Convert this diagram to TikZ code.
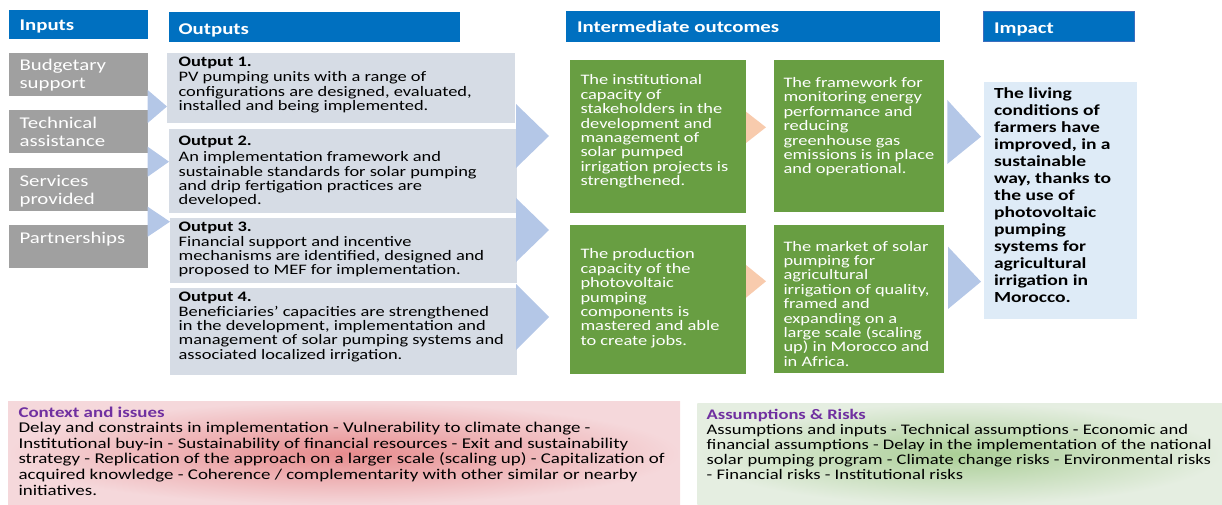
\documentclass[tikz,border=0pt]{standalone}
\usepackage{fontspec}
\setmainfont{Carlito}[FakeStretch=1.27]
\usetikzlibrary{calc}

\definecolor{hdrblue}{RGB}{0,112,192}
\definecolor{hdrline}{RGB}{60,110,190}
\definecolor{inputgray}{RGB}{160,160,160}
\definecolor{outbox}{RGB}{214,220,229}
\definecolor{chevblue}{RGB}{180,199,231}
\definecolor{chevorange}{RGB}{248,203,173}
\definecolor{leafgreen}{RGB}{104,158,66}
\definecolor{impactbg}{RGB}{222,235,247}
\definecolor{titlepurple}{RGB}{112,48,160}
\definecolor{ctxin}{RGB}{231,140,142}
\definecolor{ctxout}{RGB}{245,216,219}
\definecolor{asmin}{RGB}{170,206,150}
\definecolor{asmout}{RGB}{229,238,225}

\newcommand{\bodyfont}{\fontsize{14.5}{14.4}\selectfont}
\newcommand{\impactfont}{\fontsize{15.4}{17}\selectfont\bfseries}
\newcommand{\hdrfont}{\fontsize{16.4}{18}\selectfont\bfseries}
\newcommand{\inputfont}{\fontsize{16.4}{18}\selectfont}
\newcommand{\notefont}{\fontsize{14.9}{15.8}\selectfont}
\newcommand{\asmfont}{\fontsize{14.6}{15.2}\selectfont}
\newcommand{\block}[2]{\parbox[t]{#1pt}{\raggedright #2}}

\tikzset{
  panel/.style={anchor=north west, inner sep=0, outer sep=0, draw=none},
  header/.style={panel, fill=hdrblue},
  inputbox/.style={panel, fill=inputgray},
  outputbox/.style={panel, fill=outbox},
  outcomebox/.style={panel, fill=leafgreen},
  impactbox/.style={panel, fill=impactbg},
  txt/.style={anchor=base west, inner sep=0, outer sep=0},
  bluechev/.style={fill=chevblue},
  orangechev/.style={fill=chevorange},
}

\begin{document}
\begin{tikzpicture}[x=1pt,y=-1pt]
\useasboundingbox (0,0) rectangle (1222,505);

% ---- column headers ----
\node[header, minimum width=138.5pt, minimum height=28.5pt] (hin) at (9,10.5) {};
\node[header, minimum width=291pt, minimum height=29.7pt] (hout) at (169,12) {};
\node[header, minimum width=374pt, minimum height=30.7pt] (hmid) at (566,11) {};
\node[header, minimum width=151.5pt, minimum height=30pt, draw=hdrline, line width=0.8pt] (himp) at (983,11.7) {};

\node[txt, text=white] at (19.6,31) {\hdrfont Inputs};
\node[txt, text=white] at (178.6,34.5) {\hdrfont Outputs};
\node[txt, text=white] at (577,33) {\hdrfont Intermediate outcomes};
\node[txt, text=white] at (994,34) {\hdrfont Impact};

% ---- inputs ----
\node[inputbox, minimum width=138.8pt, minimum height=42.4pt] (in1) at (8.9,53.3) {};
\node[inputbox, minimum width=138.8pt, minimum height=42.7pt] (in2) at (8.9,110) {};
\node[inputbox, minimum width=138.8pt, minimum height=42.4pt] (in3) at (8.9,168.3) {};
\node[inputbox, minimum width=138.8pt, minimum height=43pt] (in4) at (8.9,225) {};

\node[txt, text=white] at (19.6,71) {\block{130}{\inputfont Budgetary\\support}};
\node[txt, text=white] at (19.6,128.5) {\block{130}{\inputfont Technical\\assistance}};
\node[txt, text=white] at (19.6,186) {\block{130}{\inputfont Services\\provided}};
\node[txt, text=white] at (19.6,243) {\block{130}{\inputfont Partnerships}};

% chevrons from inputs to outputs
\fill[bluechev] (147.7,90) -- (167,106.5) -- (147.7,123) -- cycle;
\fill[bluechev] (147.7,146.7) -- (169,161.7) -- (147.7,176.7) -- cycle;
\fill[bluechev] (147.7,206.7) -- (170,221.7) -- (147.7,236.7) -- cycle;

% ---- outputs ----
\node[outputbox, minimum width=348pt, minimum height=70.5pt] (out1) at (167,53) {};
\node[outputbox, minimum width=348pt, minimum height=83.7pt] (out2) at (169,129) {};
\node[outputbox, minimum width=347pt, minimum height=65pt] (out3) at (170,218) {};
\node[outputbox, minimum width=347pt, minimum height=87pt] (out4) at (170,288) {};

\node[txt] at (178.6,67) {\block{340}{\bodyfont\textbf{Output 1.}\\[0.6pt]
PV pumping units with a range of\\configurations are designed, evaluated,\\installed and being implemented.}};
\node[txt] at (178.6,146) {\block{340}{\bodyfont\textbf{Output 2.}\\[1.3pt]
An implementation framework and\\sustainable standards for solar pumping\\and drip fertigation practices are\\developed.}};
\node[txt] at (178.6,231.7) {\block{340}{\bodyfont\textbf{Output 3.}\\
Financial support and incentive\\mechanisms are identified, designed and\\proposed to MEF for implementation.}};
\node[txt] at (178.6,301.7) {\block{340}{\bodyfont\textbf{Output 4.}\\
Beneficiaries' capacities are strengthened\\in the development, implementation and\\management of solar pumping systems and\\associated localized irrigation.}};

% chevrons from outputs to intermediate outcomes
\fill[bluechev] (516,104) -- (549,136) -- (516,168) -- cycle;
\fill[bluechev] (516,198) -- (549,230) -- (516,262) -- cycle;
\fill[bluechev] (516,284) -- (549,317) -- (516,350) -- cycle;

% ---- intermediate outcomes ----
\node[outcomebox, minimum width=176pt, minimum height=152.7pt] (mid1) at (570,60) {};
\node[outcomebox, minimum width=170pt, minimum height=152pt] (mid2) at (774,60) {};
\node[outcomebox, minimum width=176pt, minimum height=149.3pt] (mid3) at (570,225) {};
\node[outcomebox, minimum width=170pt, minimum height=148.3pt] (mid4) at (774,225) {};

\node[txt, text=white] at (580.5,85) {\block{170}{\bodyfont The institutional\\capacity of\\stakeholders in the\\development and\\management of\\solar pumped\\irrigation projects is\\strengthened.}};
\node[txt, text=white] at (783.5,87.5) {\block{170}{\bodyfont The framework for\\monitoring energy\\performance and\\reducing\\greenhouse gas\\emissions is in place\\and operational.}};
\node[txt, text=white] at (580.5,258.8) {\block{170}{\bodyfont The production\\capacity of the\\photovoltaic\\pumping\\components is\\mastered and able\\to create jobs.}};
\node[txt, text=white] at (783.5,251) {\block{170}{\bodyfont The market of solar\\pumping for\\agricultural\\irrigation of quality,\\framed and\\expanding on a\\large scale (scaling\\up) in Morocco and\\in Africa.}};

% chevrons between outcome levels
\fill[orangechev] (746,111.7) -- (766,127.3) -- (746,143) -- cycle;
\fill[orangechev] (746,265) -- (766,281.3) -- (746,297.7) -- cycle;

% chevrons towards the impact
\fill[bluechev] (947.3,100) -- (981,136.7) -- (947.3,164) -- cycle;
\fill[bluechev] (948,246.7) -- (981,281.7) -- (948,309) -- cycle;

% ---- impact ----
\node[impactbox, minimum width=153pt, minimum height=236.7pt] (imp) at (984,82.3) {};
\node[txt] at (994,98.3) {\block{150}{\impactfont The living\\conditions of\\farmers have\\improved, in a\\sustainable\\way, thanks to\\the use of\\photovoltaic\\pumping\\systems for\\agricultural\\irrigation in\\Morocco.}};

% ---- context and assumptions ----
\shade[inner color=ctxin, outer color=ctxout] (8,401.7) rectangle (680,505);
\node[txt] (ctx) at (18.5,417.3) {\block{660}{\notefont\textcolor{titlepurple}{\textbf{Context and issues}}\\[-0.8pt]
Delay and constraints in implementation - Vulnerability to climate change -\\Institutional buy-in - Sustainability of financial resources - Exit and sustainability\\strategy - Replication of the approach on a larger scale (scaling up) - Capitalization of\\acquired knowledge - Coherence / complementarity with other similar or nearby\\initiatives.}};

\shade[inner color=asmin, outer color=asmout] (697.3,403.3) rectangle (1222,505);
\node[txt] (asm) at (706.7,419) {\block{515}{\asmfont\textcolor{titlepurple}{\textbf{Assumptions \& Risks}}\\
Assumptions and inputs - Technical assumptions - Economic and\\financial assumptions - Delay in the implementation of the national\\solar pumping program - Climate change risks - Environmental risks\\- Financial risks - Institutional risks}};

\end{tikzpicture}
\end{document}
